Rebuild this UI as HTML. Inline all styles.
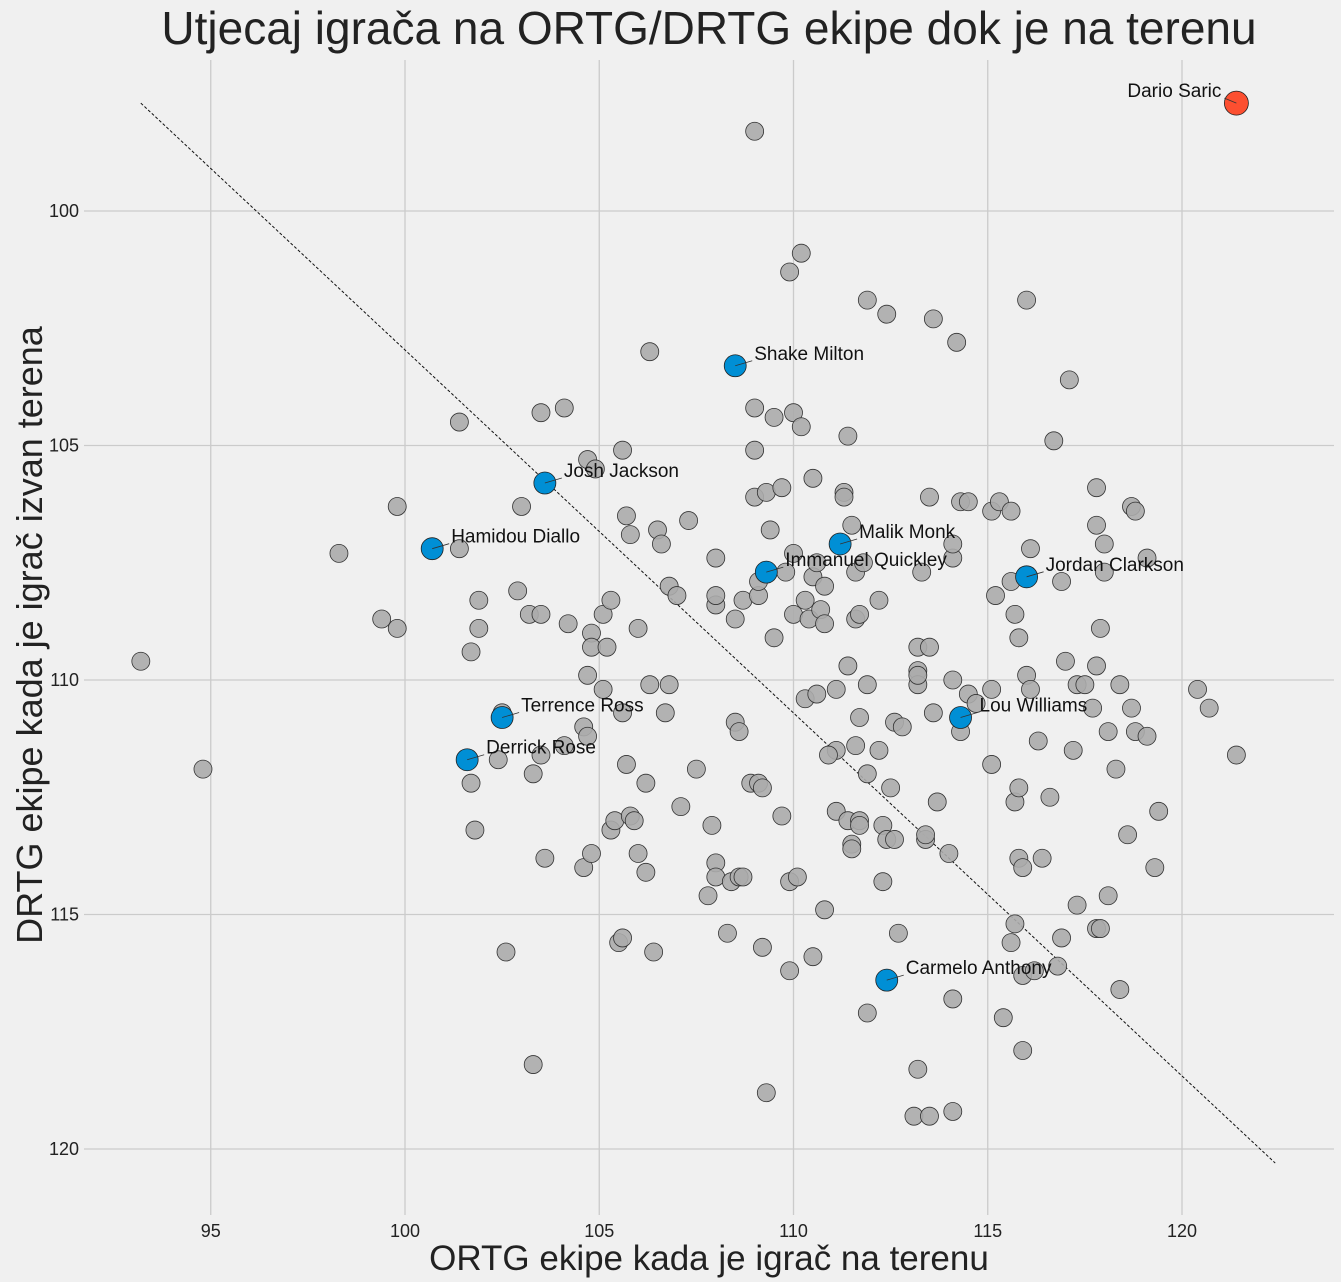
<!DOCTYPE html>
<html><head><meta charset="utf-8"><style>
html,body{margin:0;padding:0;background:#f0f0f0}
svg{display:block;font-family:"Liberation Sans","DejaVu Sans",sans-serif}
</style></head><body>
<svg id="chart" width="1341" height="1282" viewBox="0 0 1341 1282" xmlns="http://www.w3.org/2000/svg">
<rect width="1341" height="1282" fill="#f0f0f0"/>
<text x="709" y="44" text-anchor="middle" font-size="46" fill="#222">Utjecaj igrača na ORTG/DRTG ekipe dok je na terenu</text>
<g id="grid"></g>
<g id="ticks"></g>
<line id="diag" stroke="#111" stroke-width="1" stroke-dasharray="3,2"/>
<g id="points"></g>
<g id="labels"></g>
<text x="709" y="1270" text-anchor="middle" font-size="35" fill="#222">ORTG ekipe kada je igrač na terenu</text>
<text transform="translate(42,635) rotate(-90)" text-anchor="middle" font-size="36" fill="#222">DRTG ekipe kada je igrač izvan terena</text>
</svg>
<script>
const xTicks=[95,100,105,110,115,120];
const yTicks=[100,105,110,115,120];
const grayX=[109.0,93.2,94.8,98.3,99.4,99.8,99.8,101.4,101.4,101.7,101.9,101.9,101.7,101.8,102.4,102.5,102.6,102.9,103.0,103.2,103.3,103.3,103.5,103.5,103.5,103.6,104.1,104.2,104.1,104.6,104.6,104.7,104.7,104.8,104.8,104.8,104.7,104.9,105.1,105.2,105.1,105.3,105.3,105.4,105.5,105.6,105.6,105.6,105.7,105.7,105.8,105.8,105.9,106.0,106.0,106.2,106.2,106.3,106.3,106.4,106.5,106.6,106.7,106.8,106.8,107.0,107.1,107.3,107.5,107.8,107.9,108.0,108.0,108.0,108.0,108.0,108.3,108.4,108.5,108.5,108.6,108.6,108.7,108.7,108.9,109.0,109.0,109.0,109.1,109.1,109.1,109.2,109.2,109.3,109.4,109.5,109.5,109.7,109.7,109.8,109.9,109.9,109.9,110.0,110.0,110.0,110.1,110.2,110.2,110.3,110.3,110.4,110.5,110.5,110.6,110.5,110.6,110.7,110.8,110.8,110.8,111.1,111.1,111.1,110.9,111.3,111.3,111.4,111.4,111.4,111.5,111.5,111.5,111.6,111.6,111.6,111.7,111.7,111.7,111.7,111.8,111.9,111.9,111.9,111.9,112.2,112.2,112.3,112.3,112.4,112.4,112.5,112.6,112.6,112.7,112.8,113.2,113.2,113.2,113.2,113.2,113.3,113.4,113.4,113.5,113.5,113.6,113.6,113.7,114.0,114.1,114.1,114.1,114.2,114.1,114.1,114.3,114.3,114.5,114.5,114.7,115.1,115.1,115.1,115.2,115.3,115.6,115.6,115.6,115.7,115.7,115.7,115.8,115.8,115.8,115.9,115.9,115.9,116.0,116.0,116.1,116.1,116.2,116.3,116.4,116.6,116.7,116.8,116.9,116.9,117.0,117.1,117.2,117.3,117.3,117.5,117.7,117.8,117.8,117.8,117.8,117.9,117.9,118.0,118.0,118.1,118.1,118.3,118.4,118.6,118.7,118.7,118.8,118.8,119.1,119.1,119.3,119.4,118.4,120.4,120.7,121.4,113.1,113.5,109.3,115.4];
const grayY=[98.3,109.6,111.9,107.3,108.7,106.3,108.9,104.5,107.2,109.4,108.3,108.9,112.2,113.2,111.7,110.7,115.8,108.1,106.3,108.6,112.0,118.2,104.3,108.6,111.6,113.8,104.2,108.8,111.4,111.0,114.0,111.2,105.3,109.0,109.3,113.7,109.9,105.5,110.2,109.3,108.6,108.3,113.2,113.0,115.6,115.5,105.1,110.7,106.5,111.8,106.9,112.9,113.0,108.9,113.7,112.2,114.1,103.0,110.1,115.8,106.8,107.1,110.7,108.0,110.1,108.2,112.7,106.6,111.9,114.6,113.1,107.4,108.4,108.2,113.9,114.2,115.4,114.3,110.9,108.7,111.1,114.2,114.2,108.3,112.2,104.2,105.1,106.1,108.2,112.2,107.9,112.3,115.7,106.0,106.8,104.4,109.1,105.9,112.9,107.7,114.3,116.2,101.3,104.3,107.3,108.6,114.2,100.9,104.6,108.3,110.4,108.7,115.9,105.7,110.3,107.8,107.5,108.5,108.8,108.0,114.9,110.2,112.8,111.5,111.6,106.0,106.1,104.8,113.0,109.7,106.7,113.5,113.6,111.4,108.7,107.7,110.8,108.6,113.0,113.1,107.5,101.9,110.1,112.0,117.1,108.3,111.5,114.3,113.1,102.2,113.4,112.3,110.9,113.4,115.4,111.0,109.8,118.3,110.1,109.9,109.3,107.7,113.4,113.3,106.1,109.3,102.3,110.7,112.6,113.7,110.0,116.8,119.2,102.8,107.4,107.1,106.2,111.1,110.3,106.2,110.5,110.2,106.4,111.8,108.2,106.2,115.6,106.4,107.9,108.6,112.6,115.2,109.1,112.3,113.8,117.9,116.3,114.0,101.9,109.9,107.2,110.2,116.2,111.3,113.8,112.5,104.9,116.1,107.9,115.5,109.6,103.6,111.5,110.1,114.8,110.1,110.6,109.7,105.9,106.7,115.3,108.9,115.3,107.1,107.7,114.6,111.1,111.9,110.1,113.3,110.6,106.3,106.4,111.1,111.2,107.4,114.0,112.8,116.6,110.2,110.6,111.6,119.3,119.3,118.8,117.2];
const hlNames=["Shake Milton","Josh Jackson","Hamidou Diallo","Malik Monk","Immanuel Quickley","Jordan Clarkson","Lou Williams","Terrence Ross","Derrick Rose","Carmelo Anthony"];
const hlX=[108.5,103.6,100.7,111.2,109.3,116.0,114.3,102.5,101.6,112.4];
const hlY=[103.3,105.8,107.2,107.1,107.7,107.8,110.8,110.8,111.7,116.4];
const topName=["Dario Saric"];
const topX=[121.4];
const topY=[97.7];
const diagX=[93.2,122.4];
const diagY=[97.7,120.3];

const L=84,R=1334,T=60,B=1215;
const sx=v=>405+(v-100)*38.85;
const sy=v=>211+(v-100)*46.9;
const NS="http://www.w3.org/2000/svg";
function mk(tag,attrs,parent){const e=document.createElementNS(NS,tag);for(const k in attrs)e.setAttribute(k,attrs[k]);parent.appendChild(e);return e;}
const grid=document.getElementById('grid'),ticks=document.getElementById('ticks');
xTicks.forEach(t=>{
 const g=mk('line',{x1:sx(t),x2:sx(t),y1:T,y2:B,stroke:'#cbcbcb','stroke-width':1.3},grid);
 
 
 const tx=mk('text',{x:sx(t),y:1237,'text-anchor':'middle','font-size':18,fill:'#222'},ticks);
 tx.textContent=t;
 
 
});
yTicks.forEach(t=>{
 const g=mk('line',{x1:L,x2:R,y1:sy(t),y2:sy(t),stroke:'#cbcbcb','stroke-width':1.3},grid);
 
 
 const tx=mk('text',{x:79,y:sy(t)+6,'text-anchor':'end','font-size':18,fill:'#222'},ticks);
 tx.textContent=t;
 
 
});
const d=document.getElementById('diag');
d.setAttribute('x1',sx(diagX[0]));d.setAttribute('y1',sy(diagY[0]));
d.setAttribute('x2',sx(diagX[1]));d.setAttribute('y2',sy(diagY[1]));
const pts=document.getElementById('points'),labs=document.getElementById('labels');
grayX.forEach((x,i)=>{
 const c=mk('circle',{cx:sx(x),cy:sy(grayY[i]),r:9,fill:'#ababab',stroke:'#333','stroke-width':0.8,'fill-opacity':0.9},pts);
 
 
});
hlX.forEach((x,i)=>{
 const cx=sx(x),cy=sy(hlY[i]);
 const ln=mk('line',{x1:cx,y1:cy,x2:cx+17,y2:cy-5,stroke:'#333','stroke-width':0.8},labs);
 
 
 const c=mk('circle',{cx:cx,cy:cy,r:11,fill:'#008fd5',stroke:'#222','stroke-width':0.8},pts);
 
 
 const t=mk('text',{x:cx+19,y:cy-6,'font-size':19,fill:'#111'},labs);
 t.textContent=hlNames[i];
 
 
});
topX.forEach((x,i)=>{
 const cx=sx(x),cy=sy(topY[i]);
 const ln=mk('line',{x1:cx,y1:cy,x2:cx-12,y2:cy-5,stroke:'#333','stroke-width':0.8},labs);
 
 
 const c=mk('circle',{cx:cx,cy:cy,r:12,fill:'#fc4f30',stroke:'#222','stroke-width':0.8},pts);
 
 
 const t=mk('text',{x:cx-15,y:cy-6,'text-anchor':'end','font-size':19,fill:'#111'},labs);
 t.textContent=topName[i];
 
 
});
</script>
</body></html>
